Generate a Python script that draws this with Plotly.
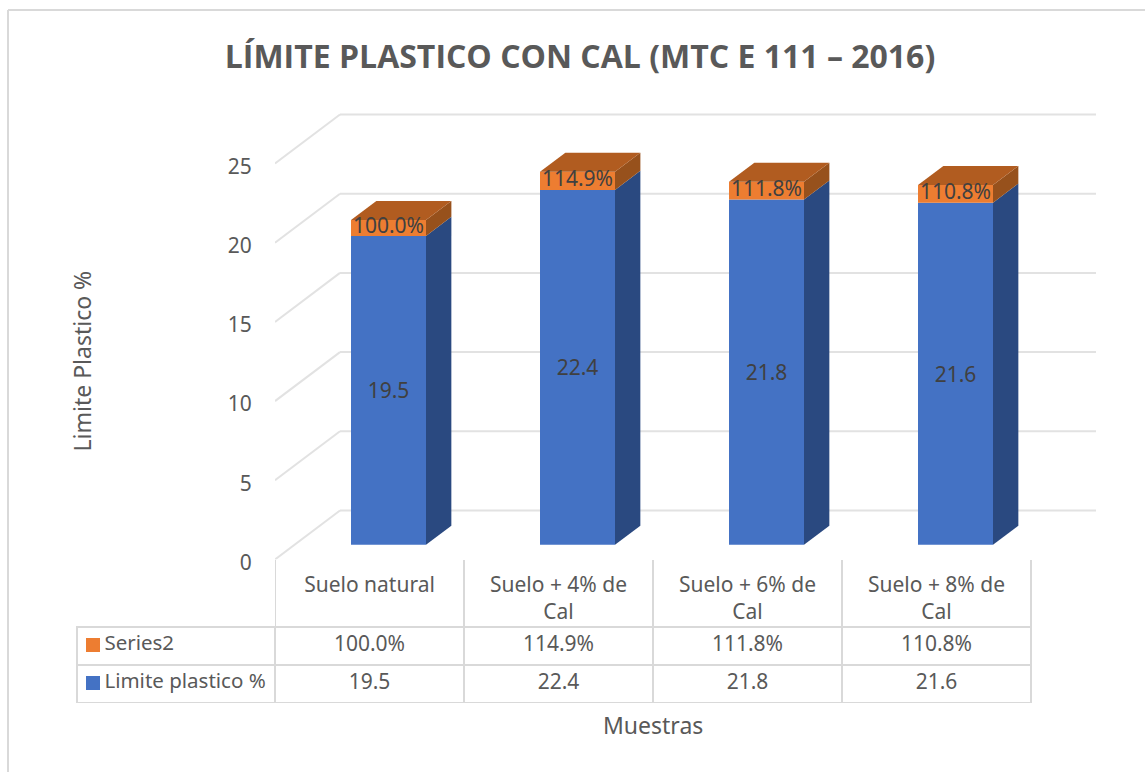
import plotly.graph_objects as go

W, H = 1145, 772
title = "LÍMITE PLASTICO CON CAL (MTC E 111 – 2016)"
categories = ["Suelo natural", "Suelo + 4% de<br>Cal", "Suelo + 6% de<br>Cal", "Suelo + 8% de<br>Cal"]
limite_plastico = [19.5, 22.4, 21.8, 21.6]
series2_pct = [100.0, 114.9, 111.8, 110.8]
y_ticks = [0, 5, 10, 15, 20, 25]

FONT = "Noto Sans"
TXT = "#595959"
GRID = "#E2E2E2"
BORDER = "#D9D9D9"
BLUE = "#4472C4"
ORANGE = "#ED7D31"

# pixel layout of the plotting frame
PX_L, PX_R, PX_B, PX_T = 275, 1096, 559.5, 100
PX_CAT, PX_UNIT = 189.0, 15.84
x0 = -0.5
x1 = x0 + (PX_R - PX_L) / PX_CAT
y1 = (PX_B - PX_T) / PX_UNIT

# oblique projection of the depth axis (data units)
WALL_DX, WALL_DY = 65 / PX_CAT, 49 / PX_UNIT
BAR_D0, BAR_D1 = 0.30, 0.69
BAR_W = 75 / PX_CAT
shift_x, base_y = WALL_DX * BAR_D0, WALL_DY * BAR_D0
dx, dy = WALL_DX * (BAR_D1 - BAR_D0), WALL_DY * (BAR_D1 - BAR_D0)

idx = list(range(len(categories)))
xc = [i + shift_x - 0.5 / PX_CAT for i in idx]
series2 = [p / 100 for p in series2_pct]

fig = go.Figure()
fig.add_bar(x=xc, y=limite_plastico, base=[base_y] * 4, width=BAR_W, name="Limite plastico %",
            marker=dict(color=BLUE, line=dict(width=0)),
            text=[f"{v:.1f}" for v in limite_plastico], textposition="inside",
            insidetextanchor="middle", constraintext="none",
            textfont=dict(family=FONT, size=21, color="#404040"))
fig.add_bar(x=xc, y=series2, base=[base_y + v for v in limite_plastico], width=BAR_W, name="Series2",
            marker=dict(color=ORANGE, line=dict(width=0)))


def face(xs, ys, color):
    fig.add_scatter(x=xs, y=ys, mode="lines", fill="toself", fillcolor=color,
                    line=dict(width=0, color=color), hoverinfo="skip", showlegend=False)


for c, v, s in zip(xc, limite_plastico, series2):
    xl, xr = c - BAR_W / 2, c + BAR_W / 2
    b, m, t = base_y, base_y + v, base_y + v + s
    face([xr, xr + dx, xr + dx, xr, xr], [b, b + dy, m + dy, m, b], "#2A4980")
    face([xr, xr + dx, xr + dx, xr, xr], [m, m + dy, t + dy, t, m], "#97511C")
    face([xl, xl + dx, xr + dx, xr, xl], [t, t + dy, t + dy, t, t], "#B15C20")

# labels of the upper series sit in front of the 3-D faces
fig.add_scatter(x=xc, y=[base_y + v + s / 2 for v, s in zip(limite_plastico, series2)],
                mode="text", text=[f"{v:.1f}%" for v in series2_pct], textposition="middle center",
                textfont=dict(family=FONT, size=21, color="#404040"), hoverinfo="skip", showlegend=False)

shapes = []
for v in y_ticks:
    shapes.append(dict(type="line", xref="x", yref="y", layer="below",
                       x0=x0, y0=v, x1=x0 + WALL_DX, y1=v + WALL_DY, line=dict(color=GRID, width=2)))
    shapes.append(dict(type="line", xref="x", yref="y", layer="below",
                       x0=x0 + WALL_DX, y0=v + WALL_DY, x1=x1, y1=v + WALL_DY, line=dict(color=GRID, width=2)))
# stems of the data table above its first row
for i in range(len(categories) + 1):
    shapes.append(dict(type="line", xref="x", yref="paper", layer="below",
                       x0=x0 + i, x1=x0 + i, y0=1 - 627 / H, y1=1 - 560 / H,
                       line=dict(color=BORDER, width=2)))
# chart-area frame
shapes.append(dict(type="line", xref="paper", yref="paper", x0=8 / W, x1=1, y0=1 - 10 / H, y1=1 - 10 / H,
                   line=dict(color=BORDER, width=2)))
shapes.append(dict(type="line", xref="paper", yref="paper", x0=8 / W, x1=8 / W, y0=0, y1=1 - 10 / H,
                   line=dict(color=BORDER, width=2)))
# legend keys of the data table
for py, col in ((638, ORANGE), (676, BLUE)):
    shapes.append(dict(type="rect", xref="paper", yref="paper", x0=86 / W, x1=100 / W,
                       y0=1 - (py + 14) / H, y1=1 - py / H, fillcolor=col, line=dict(width=0)))

NB = "\u00a0"
INDENT = NB * 3 + "\u2009"
label_s2 = INDENT + "Series2"
label_lp = INDENT + f"Limite{NB}plastico{NB}%"
ALIGN = ["left", "center", "center", "center", "center"]
COL_SIZE = [20.5, 21, 21, 21, 21]
fig.add_table(
    domain=dict(x=[77 / W, 1031 / W], y=[1 - 703 / H, 1 - 627 / H]),
    columnwidth=[198, 189, 189, 189, 189],
    header=dict(values=[label_s2] + [f"{v:.1f}%" for v in series2_pct], height=38, align=ALIGN,
                fill=dict(color="white"), line=dict(color=BORDER, width=2),
                font=dict(family=FONT, size=COL_SIZE, color=TXT)),
    cells=dict(values=[[label_lp]] + [[f"{v:.1f}"] for v in limite_plastico], height=38, align=ALIGN,
               fill=dict(color="white"), line=dict(color=BORDER, width=2),
               font=dict(family=FONT, size=COL_SIZE, color=TXT)),
)

fig.update_layout(
    width=W, height=H, margin=dict(l=0, r=0, t=0, b=0), autosize=False,
    paper_bgcolor="white", plot_bgcolor="rgba(0,0,0,0)", showlegend=False, barmode="overlay",
    font=dict(family=FONT, color=TXT, size=21),
    title=dict(text=f"<b>{title}</b>", x=580 / W, xanchor="center", y=1 - 57 / H, yanchor="middle",
               font=dict(family="Open Sans", size=32, color=TXT), automargin=False),
    xaxis=dict(domain=[PX_L / W, PX_R / W], range=[x0, x1], tickmode="array", tickvals=idx, ticktext=categories,
               automargin=False,
               showgrid=False, zeroline=False, showline=False, ticks="outside", ticklen=6,
               tickcolor="rgba(0,0,0,0)", tickangle=0, tickfont=dict(family=FONT, size=21, color=TXT)),
    yaxis=dict(domain=[1 - PX_B / H, 1 - PX_T / H], range=[0, y1], tickmode="array", tickvals=y_ticks,
               automargin=False, ticklabelshift=3,
               showgrid=False, zeroline=False, showline=False, ticks="outside", ticklen=18,
               tickcolor="rgba(0,0,0,0)", tickfont=dict(family=FONT, size=21, color=TXT)),
    shapes=shapes,
    annotations=[
        dict(text="Limite Plastico %", xref="paper", yref="paper", x=81 / W, y=1 - 361.5 / H, showarrow=False,
             textangle=-90, xanchor="center", yanchor="middle", font=dict(family=FONT, size=23, color=TXT)),
        dict(text="Muestras", xref="paper", yref="paper", x=653 / W, y=1 - 725 / H, showarrow=False,
             xanchor="center", yanchor="middle", font=dict(family=FONT, size=23, color=TXT)),
    ],
)

fig.write_html("out.html", config={"responsive": False, "displayModeBar": False},
               post_script="document.body.style.margin='0';")
